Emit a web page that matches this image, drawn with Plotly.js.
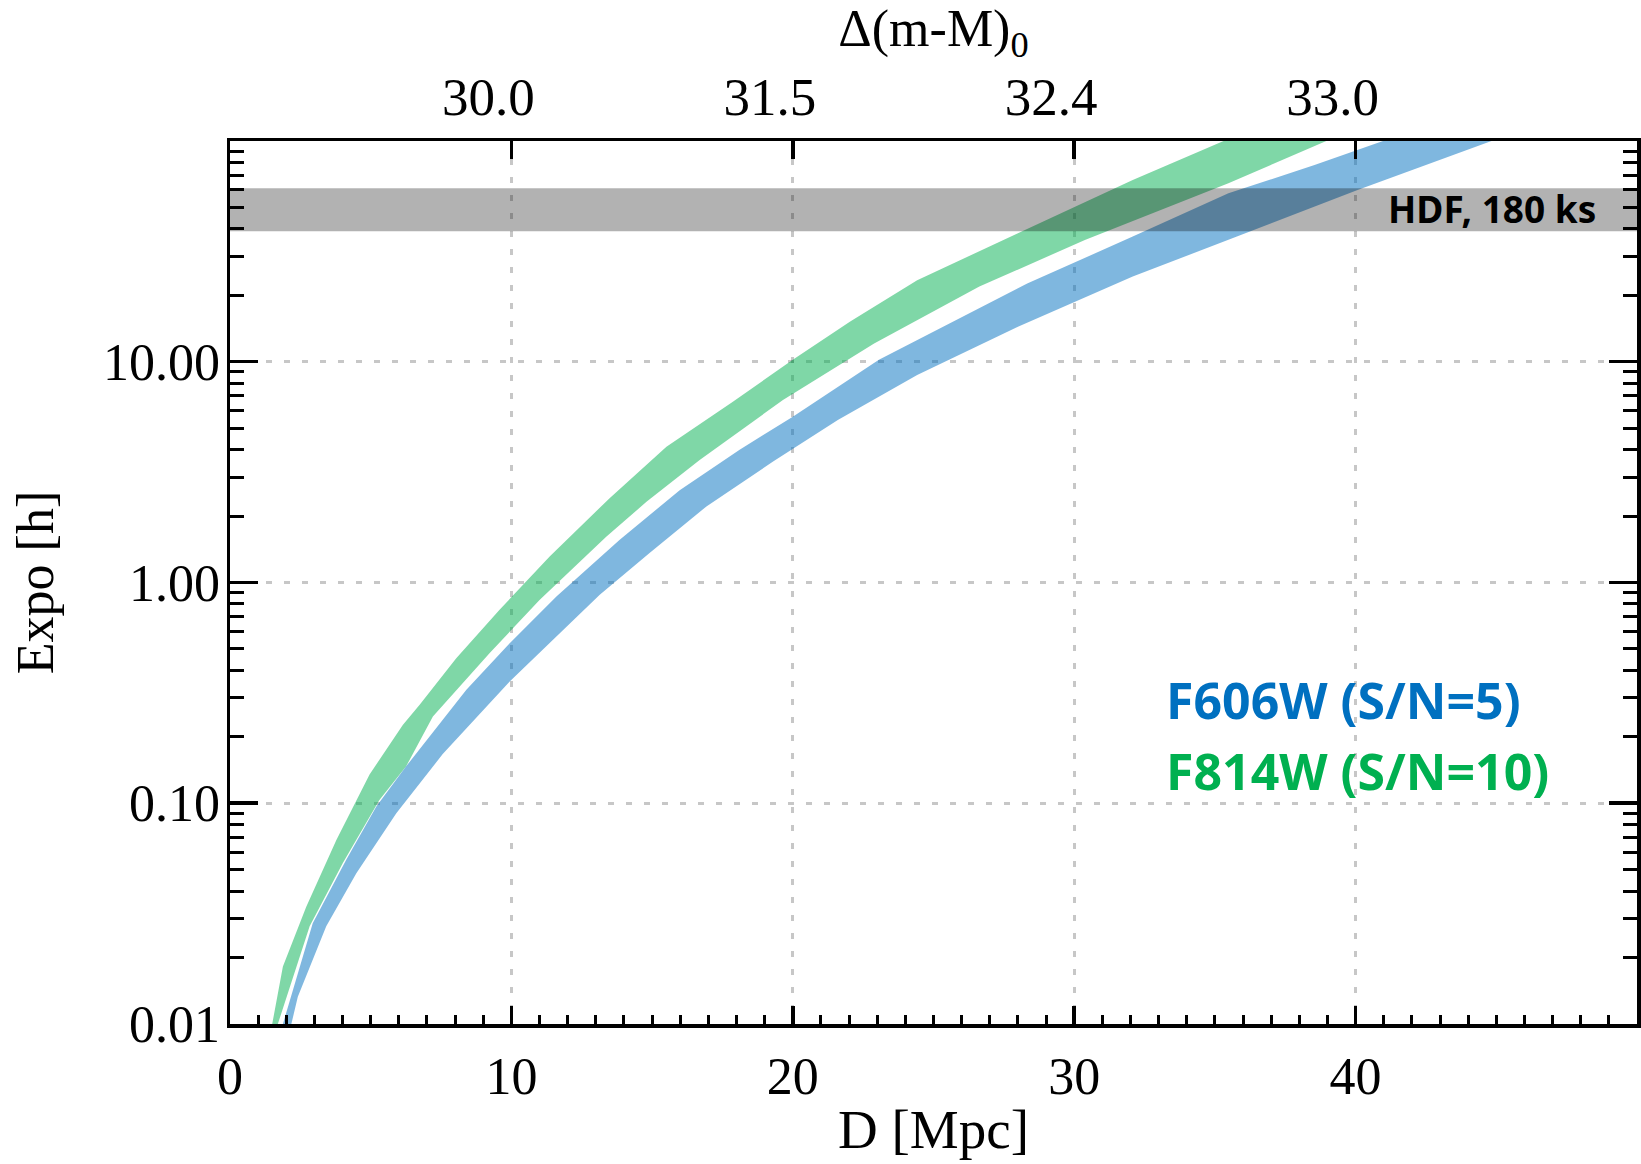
<!DOCTYPE html>
<html>
<head>
<meta charset="utf-8">
<script src="https://cdn.plot.ly/plotly-3.0.1.min.js"></script>
<style>html,body{margin:0;padding:0;background:#fff;}#chart{width:1641px;height:1164px;}</style>
</head>
<body>
<div id="chart"></div>
<script>
// F814W (S/N=10) band edges: distance D [Mpc] and exposure time [h]
const f814wUpperD = [1.50, 1.88, 2.71, 3.78, 4.96, 6.14, 6.74, 8.04, 9.58, 11.36, 13.49, 15.51, 17.87, 20.0, 22.04, 24.42, 28.0, 32.08, 35.31, 37.0];
const f814wUpperE = [0.010, 0.0182, 0.0340, 0.0682, 0.135, 0.226, 0.279, 0.454, 0.752, 1.31, 2.41, 4.12, 6.59, 10.2, 15.2, 23.4, 38.2, 66.5, 100, 123];
const f814wLowerD = [1.70, 2.83, 4.01, 5.31, 6.26, 7.21, 9.23, 11.0, 13.37, 14.80, 16.69, 19.65, 22.89, 26.63, 30.38, 35.48, 38.96, 40.5];
const f814wLowerE = [0.010, 0.0277, 0.0536, 0.1035, 0.147, 0.247, 0.479, 0.834, 1.61, 2.32, 3.59, 6.71, 12.1, 21.9, 35.6, 64.3, 100, 120];

// F606W (S/N=5) band edges
const f606wUpperD = [1.88, 2.94, 4.13, 5.20, 6.26, 8.40, 9.94, 11.6, 13.85, 15.98, 18.11, 20.0, 23.06, 28.33, 32.08, 35.48, 38.54, 40.92, 42.5];
const f606wUpperE = [0.010, 0.0286, 0.0555, 0.0966, 0.147, 0.327, 0.531, 0.863, 1.56, 2.62, 3.99, 5.64, 10.2, 22.6, 36.9, 57.9, 77.8, 100, 117];
const f606wLowerD = [2.18, 2.41, 3.42, 4.49, 5.91, 7.56, 9.94, 11.12, 13.14, 14.91, 16.93, 19.30, 21.6, 24.42, 28.0, 32.08, 35.48, 40.07, 44.83, 46.0];
const f606wLowerE = [0.010, 0.0133, 0.0277, 0.0482, 0.0902, 0.167, 0.356, 0.495, 0.879, 1.36, 2.21, 3.53, 5.45, 8.71, 14.4, 24.3, 35.6, 60.0, 100, 112];

// HDF exposure band [h]
const hdfRange = [39, 61];
const hdfLabel = 'HDF, 180 ks';

// Axis ticks
const yTickVals = [0.01, 0.1, 1, 10];
const yTickText = ['0.01', '0.10', '1.00', '10.00'];
const xTickVals = [0, 10, 20, 30, 40];
const topTickD = [10, 20, 30, 40];
const topTickText = ['30.0', '31.5', '32.4', '33.0'];

const seriesLabels = ['F606W (S/N=5)', 'F814W (S/N=10)'];

function polygon(ud, ue, ld, le) {
  return {
    x: ud.concat(ld.slice().reverse()),
    y: ue.concat(le.slice().reverse())
  };
}

const gPoly = polygon(f814wUpperD, f814wUpperE, f814wLowerD, f814wLowerE);
const bPoly = polygon(f606wUpperD, f606wUpperE, f606wLowerD, f606wLowerE);

const serif = 'Liberation Serif, Times New Roman, serif';
const sans = 'Noto Sans, Open Sans, sans-serif';

const traces = [
  {x: gPoly.x, y: gPoly.y, type: 'scatter', mode: 'lines', fill: 'toself',
   fillcolor: 'rgba(0,176,80,0.5)', line: {width: 0}, hoverinfo: 'skip', showlegend: false},
  {x: bPoly.x, y: bPoly.y, type: 'scatter', mode: 'lines', fill: 'toself',
   fillcolor: 'rgba(0,112,192,0.5)', line: {width: 0}, hoverinfo: 'skip', showlegend: false},
  {x: topTickD, y: yTickVals, xaxis: 'x2', type: 'scatter', mode: 'markers',
   marker: {opacity: 0}, hoverinfo: 'skip', showlegend: false}
];

const layout = {
  width: 1641, height: 1164,
  margin: {l: 230, r: 4, t: 141, b: 140, pad: 0},
  paper_bgcolor: '#fff', plot_bgcolor: '#fff',
  showlegend: false,
  xaxis: {
    range: [0, 50], showline: true, linewidth: 3.5, linecolor: '#000',
    ticks: 'inside', ticklen: 18, tickwidth: 3.5, tickcolor: '#000',
    tickmode: 'array', tickvals: xTickVals,
    minor: {ticks: 'inside', ticklen: 9, tickwidth: 3, tickcolor: '#000', dtick: 1, showgrid: false},
    showgrid: true, gridcolor: 'rgba(0,0,0,0.22)', gridwidth: 3, griddash: '6px,12px',
    zeroline: false, layer: 'above traces',
    tickfont: {family: serif, size: 52, color: '#000'},
    ticklabelstandoff: 4,
    title: {text: 'D [Mpc]', font: {family: serif, size: 55, color: '#000'}, standoff: 6}
  },
  xaxis2: {
    overlaying: 'x', side: 'top', range: [0, 50], showline: true, linewidth: 3.5, linecolor: '#000',
    ticks: 'inside', ticklen: 18, tickwidth: 3.5, tickcolor: '#000',
    tickmode: 'array', tickvals: topTickD, ticktext: topTickText,
    showgrid: false, zeroline: false, layer: 'above traces',
    tickfont: {family: serif, size: 53, color: '#000'},
    ticklabelstandoff: 1, ticklabelshift: -23,
    title: {text: 'Δ(m-M)<sub>0</sub>', font: {family: serif, size: 52, color: '#000'}, standoff: 10}
  },
  yaxis: {
    type: 'log', range: [-2, 1.9999], showline: true, linewidth: 3.5, linecolor: '#000',
    mirror: 'ticks',
    ticks: 'inside', ticklen: 28, tickwidth: 3.5, tickcolor: '#000',
    tickmode: 'array', tickvals: yTickVals, ticktext: yTickText,
    minor: {ticks: 'inside', ticklen: 14, tickwidth: 3, tickcolor: '#000', dtick: 'D1', showgrid: false},
    showgrid: true, gridcolor: 'rgba(0,0,0,0.22)', gridwidth: 3, griddash: '6px,12px',
    zeroline: false, layer: 'above traces',
    tickfont: {family: serif, size: 52, color: '#000'},
    ticklabelstandoff: -4,
    title: {text: 'Expo [h]', font: {family: serif, size: 52, color: '#000'}, standoff: 34}
  },
  shapes: [
    {type: 'rect', xref: 'paper', yref: 'y', x0: 0, x1: 1, y0: hdfRange[0], y1: hdfRange[1],
     fillcolor: 'rgba(0,0,0,0.3)', line: {width: 0}, layer: 'above'}
  ],
  annotations: [
    {xref: 'x', yref: 'y', x: 48.6, y: 1.692, xanchor: 'right', yanchor: 'middle', showarrow: false,
     text: '<b>' + hdfLabel + '</b>', font: {family: sans, size: 37, color: '#000'}},
    {xref: 'x', yref: 'y', x: 33.2, y: -0.532, xanchor: 'left', yanchor: 'middle', showarrow: false,
     text: '<b>' + seriesLabels[0] + '</b>', font: {family: sans, size: 50, color: '#0070C0'}},
    {xref: 'x', yref: 'y', x: 33.2, y: -0.853, xanchor: 'left', yanchor: 'middle', showarrow: false,
     text: '<b>' + seriesLabels[1] + '</b>', font: {family: sans, size: 50, color: '#00B050'}}
  ]
};

Plotly.newPlot('chart', traces, layout, {displayModeBar: false, staticPlot: true});
</script>
</body>
</html>
